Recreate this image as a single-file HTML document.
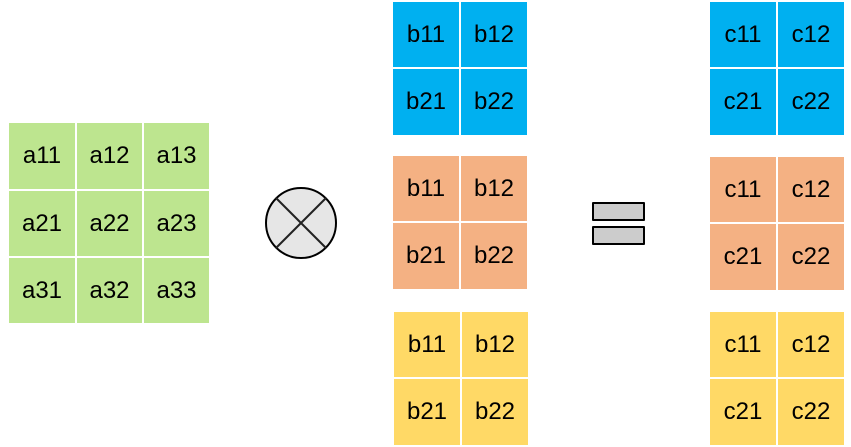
<!DOCTYPE html>
<html><head><meta charset="utf-8"><style>
body{margin:0;width:851px;height:447px;background:#fff;position:relative;overflow:hidden;font-family:"Liberation Sans",Arial,sans-serif}
.g{position:absolute;display:grid;gap:2px}
.g div{display:flex;align-items:center;justify-content:center;font-size:24px;color:#000}
.two{grid-template-columns:66px 66px;grid-template-rows:65px 66px}
.three{grid-template-columns:66px 65px 65px;grid-template-rows:66px 65px 65px}
.gr div{background:#bde58f}
.bl div{background:#00b0f0}
.or div{background:#f4b183}
.ye div{background:#ffd966}
.bar{position:absolute;left:592px;width:49px;height:15px;background:#ccc;border:2.5px solid #000;border-radius:1px}
</style></head><body>
<div class="g three gr" style="left:9px;top:123px"><div>a11</div><div>a12</div><div>a13</div><div>a21</div><div>a22</div><div>a23</div><div>a31</div><div>a32</div><div>a33</div></div>
<svg style="position:absolute;left:0;top:0" width="851" height="447"><circle cx="301" cy="223" r="35" fill="#e6e6e6" stroke="#000" stroke-width="2"/><line x1="276" y1="198" x2="326" y2="248" stroke="#222" stroke-width="2"/><line x1="326" y1="198" x2="276" y2="248" stroke="#222" stroke-width="2"/></svg>
<div class="g two bl" style="left:393px;top:2px"><div>b11</div><div>b12</div><div>b21</div><div>b22</div></div>
<div class="g two or" style="left:393px;top:156px"><div>b11</div><div>b12</div><div>b21</div><div>b22</div></div>
<div class="g two ye" style="left:394px;top:312px"><div>b11</div><div>b12</div><div>b21</div><div>b22</div></div>
<div class="bar" style="top:202px"></div>
<div class="bar" style="top:226px"></div>
<div class="g two bl" style="left:710px;top:2px"><div>c11</div><div>c12</div><div>c21</div><div>c22</div></div>
<div class="g two or" style="left:710px;top:157px"><div>c11</div><div>c12</div><div>c21</div><div>c22</div></div>
<div class="g two ye" style="left:710px;top:312px"><div>c11</div><div>c12</div><div>c21</div><div>c22</div></div>
</body></html>
